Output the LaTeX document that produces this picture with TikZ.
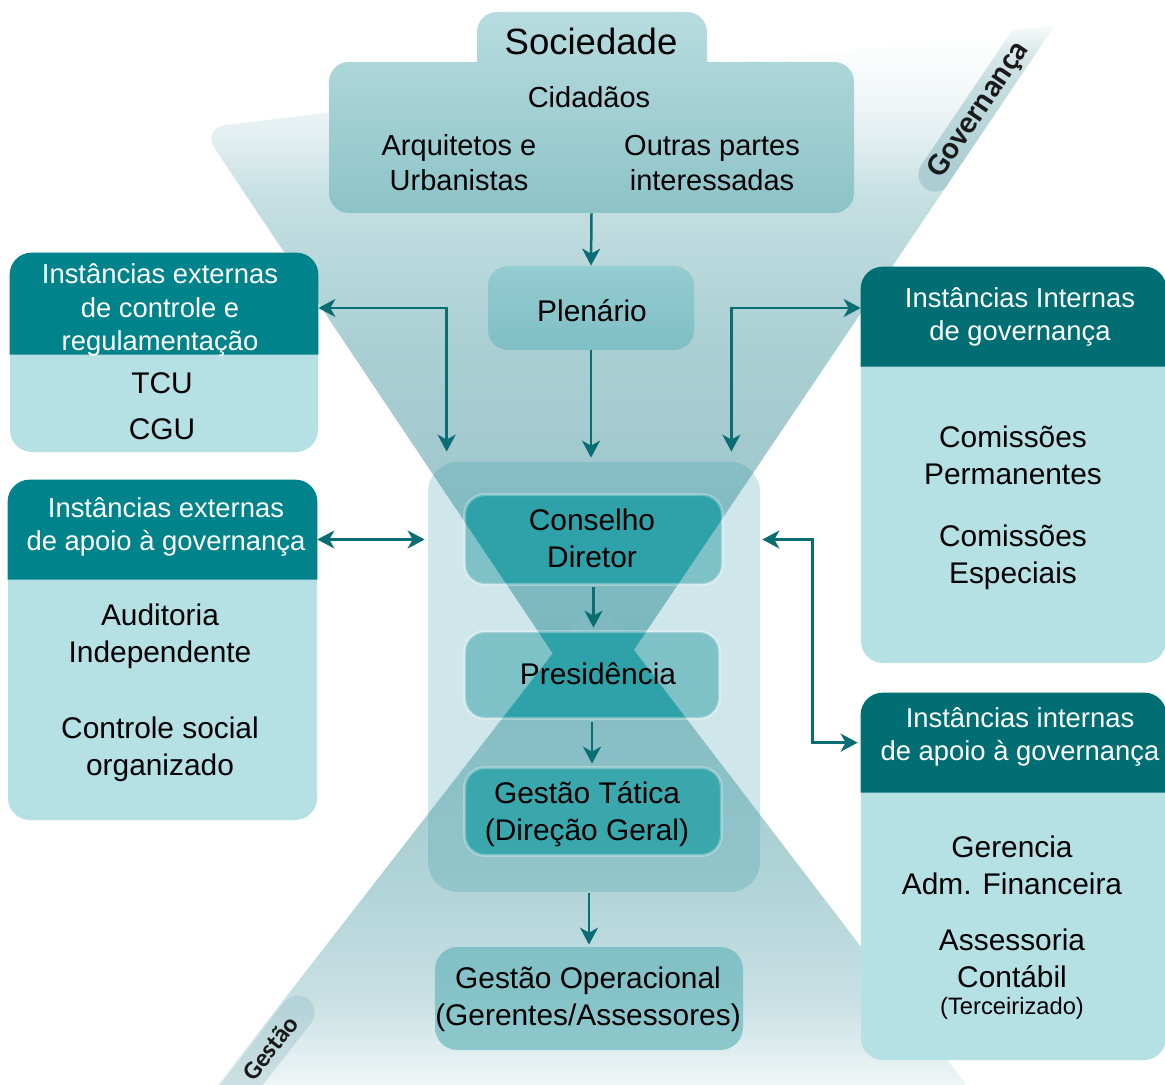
\documentclass[tikz,border=0pt]{standalone}
\usepackage{fontspec}
\setmainfont{Liberation Sans}
\newfontfamily\tagfont{Carlito}
\usetikzlibrary{arrows.meta,calc,fit}

\definecolor{hdrL}{HTML}{00838A}
\definecolor{hdrR}{HTML}{006E72}
\definecolor{bodyC}{HTML}{B5E0E4}
\definecolor{arrC}{HTML}{0A6D73}
\definecolor{cbLight}{HTML}{7EC2C7}
\definecolor{cbDark}{HTML}{2EA2A8}
\definecolor{gtDark}{HTML}{3AA7AD}
\definecolor{contC}{RGB}{49,152,165}
\definecolor{socTop}{HTML}{B8DCDF}
\definecolor{socBot}{HTML}{8CC3C8}
\definecolor{plTop}{HTML}{93CCD1}
\definecolor{plBot}{HTML}{80BEC5}
\definecolor{goTop}{HTML}{80C0C6}
\definecolor{goBot}{HTML}{8DC7CC}
\definecolor{tw1}{RGB}{140,190,196}
\definecolor{tw2}{RGB}{165,203,208}
\definecolor{tw3}{RGB}{170,207,211}
\definecolor{tw4}{RGB}{196,223,226}
\definecolor{tw5}{RGB}{222,236,238}
\definecolor{tw6}{RGB}{240,246,247}
\definecolor{bw1}{RGB}{150,195,200}
\definecolor{bw2}{RGB}{176,211,215}
\definecolor{bw3}{RGB}{200,224,227}
\definecolor{bw4}{RGB}{228,239,241}
\definecolor{bw5}{RGB}{245,249,250}
\definecolor{gp1}{HTML}{A9CCD1}
\definecolor{gp2}{HTML}{AECFD4}
\definecolor{gp3}{HTML}{C5DDE0}
\definecolor{gp4}{HTML}{DBE9EB}
\definecolor{gq1}{HTML}{B1D2D7}
\definecolor{gq2}{HTML}{C9DFE2}
\definecolor{tagTxt}{HTML}{1A1A1A}

\pgfdeclareverticalshading{topwedge}{100bp}{color(0bp)=(tw1); color(25bp)=(tw1); color(46bp)=(tw2); color(51.6bp)=(tw3); color(62.4bp)=(tw4); color(66bp)=(tw5); color(69.6bp)=(tw6); color(74bp)=(white); color(100bp)=(white)}
\pgfdeclareverticalshading{botwedge}{100bp}{color(0bp)=(bw5); color(25bp)=(bw5); color(29bp)=(bw4); color(35bp)=(bw3); color(47bp)=(bw2); color(75bp)=(bw1); color(100bp)=(bw1)}
\pgfdeclareverticalshading{govpill}{100bp}{color(0bp)=(gp1); color(25bp)=(gp1); color(32.2bp)=(gp2); color(46.9bp)=(gp3); color(53.1bp)=(gp4); color(58.8bp)=(white); color(100bp)=(white)}
\pgfdeclareverticalshading{gespill}{100bp}{color(0bp)=(gq2); color(52bp)=(gq2); color(73.4bp)=(gq1); color(100bp)=(gq1)}

\newcommand{\fSoc}{\fontsize{20.8pt}{25pt}\selectfont}
\newcommand{\fSb}{\fontsize{16.5pt}{19.9pt}\selectfont}
\newcommand{\fBody}{\fontsize{17pt}{21pt}\selectfont}
\newcommand{\fHdr}{\fontsize{15.6pt}{19pt}\selectfont}
\newcommand{\fSmall}{\fontsize{13.5pt}{16pt}\selectfont}

\begin{document}
\begin{tikzpicture}[x=0.02cm,y=-0.02cm,
  sidebox/.style={inner sep=0pt, rounded corners=0.44cm, fill=bodyC},
  cbox/.style={inner sep=0pt, rounded corners=0.4cm, fill=cbLight},
  hd/.style={inner sep=0pt, align=center, text=white, font=\fHdr},
  bd/.style={inner sep=0pt, align=center, text=black, font=\fBody},
  sb/.style={inner sep=0pt, align=center, text=black, font=\fSb},
  tagtext/.style={inner sep=0pt, text=tagTxt},
  arr/.style={draw=arrC, line width=0.05cm, -{Stealth[length=0.34cm,width=0.36cm,inset=0.1cm]}},
  dbl/.style={draw=arrC, line width=0.05cm, {Stealth[length=0.34cm,width=0.36cm,inset=0.1cm]}-{Stealth[length=0.34cm,width=0.36cm,inset=0.1cm]}}
]
\useasboundingbox (0,0) rectangle (1165,1084);
\fill[white] (0,0) rectangle (1165,1084);

% hourglass wedges
\coordinate (wTL) at (201,128);
\coordinate (wTR) at (1055,25);
\coordinate (wTA) at (592,712);
\coordinate (wBA) at (595,599);
\coordinate (wBR) at (978,1100);
\coordinate (wBL) at (206,1100);
\shade[shading=topwedge, rounded corners=0.5cm] (wTL) -- (wTR) -- (wTA) -- cycle;
\shade[shading=botwedge] (wBA) -- (wBR) -- (wBL) -- cycle;

% tags
\begin{scope}
  \clip (wTL) -- (wTR) -- (wTA) -- cycle;
  \begin{scope}[shift={(979,110)}, rotate=56]
    \shade[shading=govpill, rounded corners=0.34cm] (-95,-17) rectangle (200,17);
  \end{scope}
\end{scope}
\node[tagtext, rotate=56, font=\tagfont\bfseries\fontsize{18pt}{20pt}\selectfont] (tgov) at (979,110) {Governança};
\begin{scope}
  \clip (wBA) -- (wBR) -- (wBL) -- cycle;
  \begin{scope}[shift={(270,1048)}, rotate=52]
    \shade[shading=gespill, rounded corners=0.34cm] (-150,-17) rectangle (62,17);
  \end{scope}
\end{scope}
\node[tagtext, rotate=52, font=\tagfont\bfseries\fontsize{14.5pt}{17pt}\selectfont] (tges) at (270,1048) {Gestão};

% central container
\node[fit={(428,462)(760,892)}, inner sep=0pt, rounded corners=0.6cm, fill=contC, fill opacity=0.233] (cont) {};

% central boxes
\node[cbox, fit={(465,495)(722,584)}] (cd) {};
\node[cbox, fit={(465,632)(719,718)}] (pr) {};
\node[cbox, fit={(465,768)(721,855)}] (gt) {};
\begin{scope}
  \clip (wTL) -- (wTR) -- (wTA) -- cycle (wBA) -- (wBR) -- (wBL) -- cycle;
  \fill[cbDark, rounded corners=0.4cm] (cd.north west) rectangle (cd.south east);
  \fill[cbDark, rounded corners=0.4cm] (pr.north west) rectangle (pr.south east);
  \fill[gtDark, rounded corners=0.4cm] (gt.north west) rectangle (gt.south east);
\end{scope}
\foreach \n in {cd,pr,gt}
  \draw[white, draw opacity=0.3, line width=0.06cm, rounded corners=0.4cm] (\n.north west) rectangle (\n.south east);
\node[bd] (cdt) at (592,538) {Conselho\\Diretor};
\node[bd] (prt) at (598,674) {Presidência};
\node[bd] (gtt) at (587,814) {Gestão Tática\\(Direção Geral)};

% Sociedade
\shade[top color=socTop, bottom color=socBot, rounded corners=0.4cm] (477,12) rectangle (707,90) (329,62) rectangle (854,213);
\node[fit={(329,12)(854,213)}, inner sep=0pt] (soc) {};
\node[inner sep=0pt, font=\fSoc] (sod) at (591,41) {Sociedade};
\node[sb] (cid) at (589,97) {Cidadãos};
\node[sb] (arq) at (459,163) {Arquitetos e\\Urbanistas};
\node[sb] (out) at (712,163) {Outras partes\\interessadas};

% Plenario
\node[fit={(488,266)(694,350)}, inner sep=0pt, rounded corners=0.4cm, top color=plTop, bottom color=plBot] (pl) {};
\node[bd] (plt) at (592,311) {Plenário};

% Gestao Operacional
\node[fit={(435,947)(743,1050)}, inner sep=0pt, rounded corners=0.45cm, top color=goTop, bottom color=goBot] (go) {};
\node[bd] (got) at (588,999) {Gestão Operacional\\(Gerentes/Assessores)};

% side boxes
\node[sidebox, fit={(10,253)(318,452)}] (b1) {};
\fill[hdrL, rounded corners=0.44cm] ($(b1.north west)+(0,102)$) -- (b1.north west) -- (b1.north east) -- ($(b1.north east)+(0,102)$);
\node[hd] (h1) at (160,310) {Instâncias externas\\de controle e\\regulamentação};
\node[bd] (t1) at (162,383) {TCU};
\node[bd] (t2) at (162,429) {CGU};

\node[sidebox, fit={(8,480)(317,820)}] (b2) {};
\fill[hdrL, rounded corners=0.44cm] ($(b2.north west)+(0,100)$) -- (b2.north west) -- (b2.north east) -- ($(b2.north east)+(0,100)$);
\node[hd] (h2) at (166,527) {Instâncias externas\\de apoio à governança};
\node[bd] (t3) at (160,636) {Auditoria\\Independente};
\node[bd] (t4) at (160,749) {Controle social\\organizado};

\node[sidebox, fit={(861,267)(1166,663)}] (b3) {};
\fill[hdrR, rounded corners=0.44cm] ($(b3.north west)+(0,100)$) -- (b3.north west) -- (b3.north east) -- ($(b3.north east)+(0,100)$);
\node[hd] (h3) at (1020,317) {Instâncias Internas\\de governança};
\node[bd] (t5) at (1013,455) {Comissões\\Permanentes};
\node[bd] (t6) at (1013,557) {Comissões\\Especiais};

\node[sidebox, fit={(861,693)(1166,1060)}] (b4) {};
\fill[hdrR, rounded corners=0.44cm] ($(b4.north west)+(0,100)$) -- (b4.north west) -- (b4.north east) -- ($(b4.north east)+(0,100)$);
\node[hd] (h4) at (1020,737) {Instâncias internas\\de apoio à governança};
\node[bd] (t7) at (1012,865) {Gerencia\\Adm. Financeira};
\node[bd] (t8) at (1012,958) {Assessoria\\Contábil};
\node[inner sep=0pt, font=\fSmall] (t9) at (1012,1008) {(Terceirizado)};

% connectors
\draw[arr] (soc.south) -- (pl.north);
\draw[arr, shorten >=0.08cm] (pl.south) -- (pl.south |- cont.north);
\draw[arr, shorten <=0.06cm, shorten >=0.08cm] (cd.south) -- (cd.south |- pr.north);
\draw[arr, shorten <=0.08cm, shorten >=0.08cm] (pr.south) -- (pr.south |- gt.north);
\draw[arr, shorten <=0.02cm, shorten >=0.04cm] (go.north |- cont.south) -- (go.north);
\draw[dbl] (b1.east |- pl.center) -| ($(cont.north west)+(19,-10)$);
\draw[dbl] (b3.west |- pl.center) -| ($(cont.north east)+(-29,-10)$);
\draw[dbl] (b2.east |- cd.center) -- ($(cont.west |- cd.center)+(-3,0)$);
\draw[dbl] ($(cont.east |- cd.center)+(2,0)$) -- ++(50,0) |- ($(b4.north west)+(-3,50)$);
\end{tikzpicture}
\end{document}
